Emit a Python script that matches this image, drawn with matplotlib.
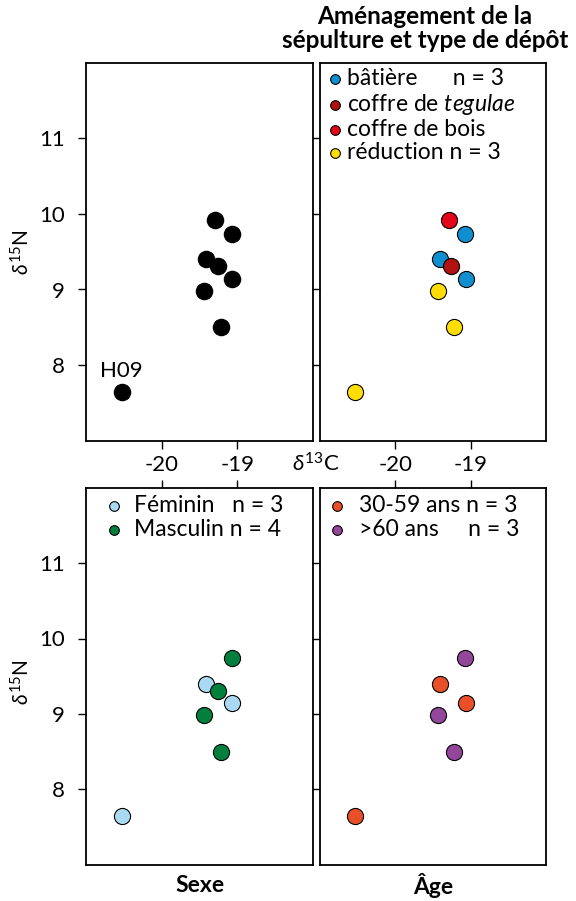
import numpy as np
import matplotlib.pyplot as plt

plt.rcParams['font.family'] = ['Lato', 'DejaVu Sans']
plt.rcParams['axes.unicode_minus'] = False
plt.rcParams['mathtext.fontset'] = 'custom'
plt.rcParams['mathtext.rm'] = 'Lato'
plt.rcParams['mathtext.it'] = 'Lato:italic'

# valeurs isotopiques
d13C = [-20.53, -19.29, -19.075, -19.41, -19.26, -19.065, -19.44, -19.22]
d15N = [7.64, 9.92, 9.74, 9.40, 9.31, 9.145, 8.98, 8.50]
ids = ['H09', '', '', '', '', '', '', '']

depot = ['réduction', 'coffre de bois', 'bâtière', 'bâtière', 'coffre de tegulae',
         'bâtière', 'réduction', 'réduction']
sexe = ['Féminin', None, 'Masculin', 'Féminin', 'Masculin', 'Féminin', 'Masculin', 'Masculin']
age = ['30-59 ans', None, '>60 ans', '30-59 ans', None, '30-59 ans', '>60 ans', '>60 ans']

depot_cats = ['bâtière', 'coffre de tegulae', 'coffre de bois', 'réduction']
depot_labels = ['bâtière      n = 3', r'coffre de $\it{tegulae}$', 'coffre de bois', 'réduction n = 3']
depot_cols = ['#0F8FD0', '#B0120F', '#E3061A', '#FFDD00']

sexe_cats = ['Féminin', 'Masculin']
sexe_labels = ['Féminin   n = 3', 'Masculin n = 4']
sexe_cols = ['#AAD9F3', '#00803C']

age_cats = ['30-59 ans', '>60 ans']
age_labels = ['30-59 ans n = 3', '>60 ans     n = 3']
age_cols = ['#E9502A', '#92479A']

xticks = [-20, -19]
yticks = [8, 9, 10, 11]

x = np.array(d13C)
y = np.array(d15N)

fig = plt.figure(figsize=(5.76, 9.01), dpi=100)

W, H = 576, 901
def rect(x0, y0, x1, y1):
    return [x0 / W, 1 - y1 / H, (x1 - x0) / W, (y1 - y0) / H]

def panel(r, top_row, left_col):
    ax = fig.add_axes(r)
    ax.set_xlim(-21, -18)
    ax.set_ylim(7, 12)
    ax.set_xticks(xticks)
    ax.set_yticks(yticks)
    ax.tick_params(axis='x', bottom=top_row, labelbottom=top_row, top=not top_row,
                   labeltop=False, direction='out', length=5.5, width=1, labelsize=16, pad=5)
    ax.tick_params(axis='y', left=True, labelleft=left_col, direction='out',
                   length=5.5, width=1, labelsize=16, pad=10)
    for s in ax.spines.values():
        s.set_linewidth(1.3)
    return ax

ax1 = panel(rect(86, 62.7, 313, 440.7), True, True)
ax2 = panel(rect(320, 62.7, 546, 440.7), True, False)
ax3 = panel(rect(86, 487.7, 313, 864.7), False, True)
ax4 = panel(rect(320, 487.7, 546, 864.7), False, False)

size = 135

# tous les individus
ax1.scatter(x, y, s=size, c='black')
for xi, yi, t in zip(x, y, ids):
    if t:
        ax1.annotate(t, (xi, yi), xytext=(0, 8), textcoords='offset points',
                     ha='center', va='bottom', fontsize=16)

def groups(ax, cats, labels, cols, values):
    v = np.array(values, dtype=object)
    for c, l, col in zip(cats, labels, cols):
        m = v == c
        ax.scatter(x[m], y[m], s=size, c=col, edgecolors='black', linewidths=0.8, label=l)

groups(ax2, depot_cats, depot_labels, depot_cols, depot)
groups(ax3, sexe_cats, sexe_labels, sexe_cols, sexe)
groups(ax4, age_cats, age_labels, age_cols, age)

leg_kw = dict(loc='upper left', frameon=False, fontsize=16.5, markerscale=0.6,
              labelspacing=0.1, borderaxespad=0, handlelength=0.6, borderpad=0)
ax2.legend(bbox_to_anchor=(0.035, 0.985), handletextpad=0.25, **leg_kw)
ax3.legend(bbox_to_anchor=(0.095, 0.98), handletextpad=0.55, **leg_kw)
ax4.legend(bbox_to_anchor=(0.045, 0.98), handletextpad=0.65, **leg_kw)

# textes de la figure
fig.text(425 / W, 1 - 5 / H, 'Aménagement de la\nsépulture et type de dépôt', ha='center',
         va='top', fontsize=17.5, fontweight='bold', linespacing=1.05)
fig.text(316 / W, 1 - 464 / H, r'$\delta^{13}$C', ha='center', va='center', fontsize=16)
fig.text(22 / W, 1 - 252 / H, r'$\delta^{15}$N', ha='center', va='center', rotation=90, fontsize=15)
fig.text(22 / W, 1 - 682 / H, r'$\delta^{15}$N', ha='center', va='center', rotation=90, fontsize=15)
fig.text(200 / W, 1 - 886 / H, 'Sexe', ha='center', va='center', fontsize=16.5, fontweight='bold')
fig.text(433 / W, 1 - 886 / H, 'Âge', ha='center', va='center', fontsize=16.5, fontweight='bold')

plt.savefig('out.png', dpi=100)
